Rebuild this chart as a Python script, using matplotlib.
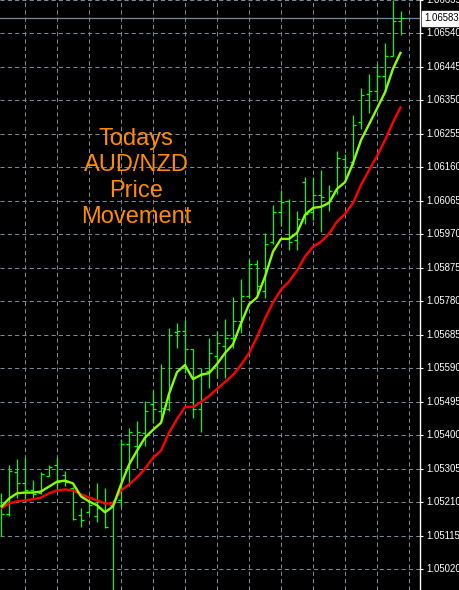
import matplotlib
matplotlib.use("Agg")
import matplotlib.pyplot as plt
import numpy as np

# ---- data ----
bar_open = [1.05201, 1.05175, 1.05294, 1.05263, 1.05243, 1.05237, 1.05285, 1.05314, 1.05288, 1.05249,
            1.05172, 1.05181, 1.05170, 1.05209, 1.05201, 1.05215, 1.05376, 1.05370, 1.05407, 1.05489,
            1.05469, 1.05475, 1.05692, 1.05695, 1.05644, 1.05475, 1.05582, 1.05624, 1.05652, 1.05675,
            1.05723, 1.05796, 1.05887, 1.05808, 1.05949, 1.06034, 1.06065, 1.05955, 1.06118, 1.06034,
            1.06082, 1.06062, 1.06093, 1.06183, 1.06175, 1.06288, 1.06367, 1.06378, 1.06418, 1.06477,
            1.06576]
bar_high = [1.05237, 1.05316, 1.05333, 1.05339, 1.05274, 1.05294, 1.05314, 1.05339, 1.05299, 1.05254,
            1.05192, 1.05215, 1.05263, 1.05251, 1.05215, 1.05390, 1.05421, 1.05441, 1.05497, 1.05528,
            1.05602, 1.05703, 1.05717, 1.05726, 1.05644, 1.05590, 1.05675, 1.05695, 1.05729, 1.05791,
            1.05844, 1.05901, 1.05898, 1.05974, 1.06053, 1.06096, 1.06070, 1.06037, 1.06132, 1.06132,
            1.06152, 1.06110, 1.06207, 1.06198, 1.06308, 1.06384, 1.06426, 1.06454, 1.06514, 1.06635,
            1.06604]
bar_low = [1.05113, 1.05170, 1.05223, 1.05209, 1.05220, 1.05232, 1.05283, 1.05243, 1.05257, 1.05158,
           1.05138, 1.05178, 1.05153, 1.05136, 1.04932, 1.05195, 1.05257, 1.05308, 1.05370, 1.05435,
           1.05441, 1.05469, 1.05647, 1.05576, 1.05449, 1.05410, 1.05534, 1.05562, 1.05562, 1.05647,
           1.05689, 1.05791, 1.05802, 1.05788, 1.05943, 1.05994, 1.05926, 1.05926, 1.06000, 1.06011,
           1.05977, 1.06037, 1.06085, 1.06124, 1.06166, 1.06268, 1.06313, 1.06350, 1.06375, 1.06477,
           1.06536]
bar_close = [1.05175, 1.05297, 1.05263, 1.05243, 1.05232, 1.05291, 1.05311, 1.05268, 1.05266, 1.05161,
             1.05158, 1.05201, 1.05192, 1.05138, 1.05209, 1.05376, 1.05410, 1.05410, 1.05469, 1.05475,
             1.05477, 1.05684, 1.05695, 1.05644, 1.05475, 1.05576, 1.05633, 1.05661, 1.05675, 1.05723,
             1.05794, 1.05887, 1.05822, 1.05943, 1.06034, 1.06062, 1.05949, 1.06014, 1.06028, 1.06082,
             1.06076, 1.06093, 1.06186, 1.06161, 1.06279, 1.06364, 1.06378, 1.06418, 1.06477, 1.06576,
             1.06583]
ma_fast = [1.05195, 1.05220, 1.05235, 1.05237, 1.05237, 1.05240, 1.05254, 1.05268, 1.05271, 1.05263,
           1.05226, 1.05212, 1.05201, 1.05181, 1.05198, 1.05260, 1.05316, 1.05356, 1.05393, 1.05415,
           1.05435, 1.05517, 1.05579, 1.05599, 1.05559, 1.05571, 1.05576, 1.05602, 1.05633, 1.05658,
           1.05717, 1.05771, 1.05791, 1.05850, 1.05921, 1.05957, 1.05957, 1.05974, 1.06025, 1.06045,
           1.06048, 1.06059, 1.06099, 1.06118, 1.06172, 1.06237, 1.06282, 1.06327, 1.06373, 1.06440,
           1.06488]
ma_slow = [1.05192, 1.05206, 1.05212, 1.05215, 1.05218, 1.05223, 1.05235, 1.05243, 1.05246, 1.05243,
           1.05232, 1.05223, 1.05215, 1.05206, 1.05206, 1.05243, 1.05260, 1.05280, 1.05305, 1.05336,
           1.05356, 1.05407, 1.05446, 1.05480, 1.05480, 1.05494, 1.05511, 1.05531, 1.05551, 1.05571,
           1.05599, 1.05633, 1.05678, 1.05731, 1.05777, 1.05813, 1.05836, 1.05867, 1.05907, 1.05935,
           1.05949, 1.05972, 1.06006, 1.06028, 1.06059, 1.06110, 1.06152, 1.06192, 1.06237, 1.06288,
           1.06333]
price_ticks = [1.05020, 1.05115, 1.05210, 1.05305, 1.05400, 1.05495, 1.05590, 1.05685, 1.05780,
               1.05875, 1.05970, 1.06065, 1.06160, 1.06255, 1.06350, 1.06445, 1.06540, 1.06635]
current_price = 1.06583
title_text = "Todays\nAUD/NZD\nPrice\nMovement"

# ---- figure ----
W, H, DPI = 460, 590, 100
fig = plt.figure(figsize=(W / DPI, H / DPI), dpi=DPI, facecolor="black")
ax = fig.add_axes([0, 0, 420 / W, 1])
ax.set_facecolor("black")

n = len(bar_close)
x = np.arange(n)
ax.set_xlim(-0.125, -0.125 + 420 / 8)
ax.set_ylim(1.049605, 1.066267)

grid_c = "#778899"
# grid
for gx in np.arange(3, 53, 4):
    ax.axvline(gx, color=grid_c, lw=0.75, ls=(0, (4, 3)), zorder=1)
for p in price_ticks:
    ax.axhline(p, color=grid_c, lw=0.75, ls=(0, (4, 3)), zorder=1)

# current price line
ax.axhline(current_price, color=grid_c, lw=0.9, zorder=1.5)

# OHLC bars
bar_c = "#00ff00"
tk = 0.4
ax.vlines(x, bar_low, bar_high, colors=bar_c, lw=0.9, zorder=2)
ax.hlines(bar_open, x - tk, x, colors=bar_c, lw=0.9, zorder=2)
ax.hlines(bar_close, x, x + tk, colors=bar_c, lw=0.9, zorder=2)

# moving averages
ax.plot(x, ma_slow, color="#ff0000", lw=1.7, zorder=3, solid_capstyle="butt")
ax.plot(x, ma_fast, color="#88ff00", lw=1.7, zorder=4, solid_capstyle="butt")

# annotation text
ax.text(16.9, 1.06130, title_text, color="#ff8c00", fontsize=17,
        family="Liberation Sans", ha="center", va="center", linespacing=1.22, zorder=5)

# axes / ticks
for s in ["left", "top", "bottom"]:
    ax.spines[s].set_visible(False)
ax.spines["right"].set_color("white")
ax.spines["right"].set_linewidth(1.0)
ax.xaxis.set_visible(False)
ax.yaxis.tick_right()
ax.set_yticks(price_ticks)
ax.set_yticklabels([f"{p:.5f}" for p in price_ticks])
ax.tick_params(axis="y", colors="white", length=2.5, width=0.8, pad=2,
               labelsize=6.9, labelcolor="white")
for lbl in ax.get_yticklabels():
    lbl.set_family("Liberation Sans")
    lbl.set_verticalalignment("center")

# current price label box
ax.annotate(f"{current_price:.5f}", xy=(1.0, current_price), xycoords=("axes fraction", "data"),
            xytext=(3.2, 0), textcoords="offset points", ha="left", va="center",
            fontsize=6.9, family="Liberation Sans", color="black",
            bbox=dict(boxstyle="square,pad=0.25", fc="white", ec="white"), zorder=10,
            annotation_clip=False)

fig.savefig("out.png", dpi=DPI, facecolor="black")
